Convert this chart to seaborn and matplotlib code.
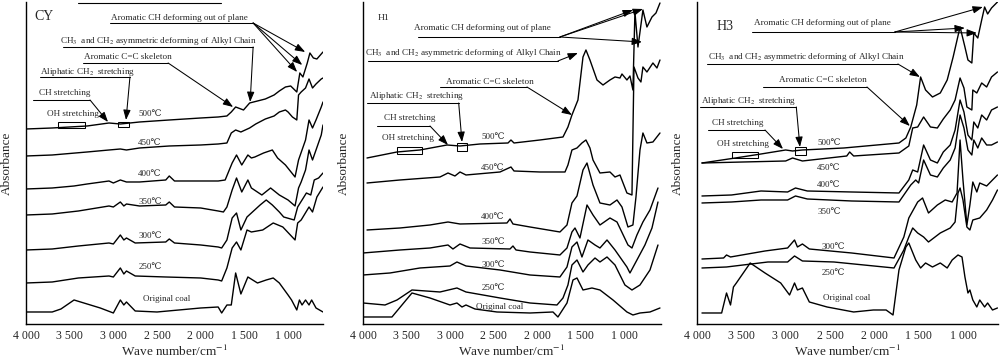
import matplotlib
matplotlib.use('Agg')
import pandas as pd
import seaborn as sns
import matplotlib.pyplot as plt
from matplotlib.patches import Rectangle

# FTIR spectra, (wavenumber cm-1, absorbance a.u.), curves stacked with offsets as published
cy_500 = [(4000, 1.95), (3700, 1.96), (3300, 1.98), (3050, 2.01), (2920, 2.00), (2700, 2.02), (2360, 2.04),
          (2000, 2.06), (1800, 2.07), (1700, 2.08), (1650, 2.12), (1600, 2.17), (1510, 2.14), (1440, 2.21),
          (1260, 2.25), (1160, 2.29), (1100, 2.33), (1030, 2.37), (970, 2.38), (900, 2.32), (865, 2.51),
          (830, 2.47), (780, 2.61), (750, 2.71), (710, 2.66), (670, 2.65), (610, 2.71), (600, 2.72)]
cy_450 = [(4000, 1.68), (3700, 1.69), (3300, 1.72), (3050, 1.74), (2920, 1.75), (2850, 1.74), (2700, 1.76),
          (2360, 1.78), (2000, 1.79), (1800, 1.80), (1700, 1.81), (1650, 1.91), (1600, 1.94), (1540, 1.92),
          (1440, 1.96), (1370, 2.00), (1260, 2.05), (1160, 2.08), (1100, 2.12), (1030, 2.14), (1000, 2.12),
          (950, 2.07), (900, 2.04), (880, 2.29), (850, 2.32), (800, 2.36), (760, 2.45), (720, 2.36),
          (680, 2.40), (620, 2.45), (600, 2.46)]
cy_400 = [(4000, 1.35), (3700, 1.36), (3450, 1.38), (3300, 1.40), (3050, 1.43), (3000, 1.41), (2920, 1.44),
          (2850, 1.42), (2700, 1.42), (2400, 1.44), (2360, 1.48), (2300, 1.43), (2000, 1.43), (1800, 1.43),
          (1720, 1.44), (1640, 1.61), (1590, 1.69), (1530, 1.59), (1460, 1.69), (1420, 1.66), (1380, 1.67),
          (1280, 1.71), (1180, 1.74), (1120, 1.66), (1030, 1.59), (920, 1.47), (880, 1.64), (840, 1.74),
          (800, 1.84), (760, 2.04), (720, 1.96), (680, 2.04), (620, 2.17), (600, 2.22)]
cy_350 = [(4000, 1.09), (3700, 1.10), (3400, 1.13), (3050, 1.18), (3000, 1.17), (2920, 1.22), (2880, 1.18),
          (2850, 1.20), (2700, 1.18), (2400, 1.19), (2360, 1.22), (2300, 1.17), (2000, 1.16), (1800, 1.13),
          (1740, 1.12), (1700, 1.17), (1640, 1.34), (1590, 1.46), (1530, 1.32), (1460, 1.44), (1420, 1.36),
          (1300, 1.29), (1200, 1.36), (1100, 1.29), (1000, 1.24), (920, 1.18), (880, 1.36), (850, 1.42),
          (800, 1.54), (760, 1.74), (720, 1.64), (680, 1.74), (620, 1.89), (600, 1.99)]
cy_300 = [(4000, 0.74), (3700, 0.75), (3400, 0.78), (3050, 0.81), (3000, 0.80), (2920, 0.89), (2880, 0.84),
          (2850, 0.86), (2750, 0.81), (2400, 0.82), (2360, 0.85), (2300, 0.81), (2000, 0.79), (1800, 0.77),
          (1760, 0.76), (1700, 0.84), (1640, 1.06), (1590, 1.11), (1540, 0.94), (1470, 1.07), (1420, 1.11),
          (1320, 1.19), (1250, 1.24), (1180, 1.19), (1100, 1.12), (1050, 1.07), (930, 1.04), (890, 1.17),
          (840, 1.24), (790, 1.31), (740, 1.29), (700, 1.44), (650, 1.46), (600, 1.51)]
cy_250 = [(4000, 0.41), (3700, 0.42), (3400, 0.46), (3050, 0.48), (3000, 0.47), (2920, 0.56), (2880, 0.50),
          (2850, 0.53), (2750, 0.48), (2400, 0.47), (2000, 0.46), (1800, 0.44), (1760, 0.43), (1700, 0.56),
          (1640, 0.76), (1590, 0.82), (1540, 0.74), (1470, 0.94), (1420, 0.92), (1290, 0.94), (1170, 1.01),
          (1060, 0.97), (920, 0.84), (890, 1.01), (850, 1.04), (760, 1.17), (720, 1.12), (670, 1.27), (600, 1.37)]
cy_raw = [(4000, 0.12), (3700, 0.12), (3600, 0.15), (3450, 0.24), (3300, 0.20), (3150, 0.16), (3000, 0.11),
          (2920, 0.24), (2880, 0.19), (2850, 0.22), (2750, 0.13), (2500, 0.12), (2000, 0.16), (1800, 0.17),
          (1760, 0.11), (1700, 0.19), (1650, 0.19), (1600, 0.51), (1540, 0.30), (1460, 0.47), (1350, 0.41),
          (1250, 0.44), (1170, 0.46), (1100, 0.41), (1000, 0.29), (960, 0.24), (900, 0.14), (870, 0.24),
          (840, 0.19), (800, 0.24), (760, 0.19), (730, 0.24), (680, 0.16), (600, 0.12)]

h1_500 = [(3954, 1.66), (3609, 1.72), (3345, 1.74), (3034, 1.79), (2885, 1.78), (2655, 1.80), (2333, 1.81),
          (2299, 1.84), (2264, 1.81), (1966, 1.84), (1701, 1.87), (1644, 1.97), (1598, 2.09), (1529, 2.24),
          (1471, 2.67), (1437, 2.74), (1391, 2.64), (1310, 2.44), (1241, 2.39), (1161, 2.44), (1103, 2.47),
          (1046, 2.46), (1023, 2.50), (966, 2.44), (931, 2.48), (897, 2.34), (874, 3.12), (839, 2.77),
          (782, 3.14), (736, 2.97), (678, 3.07), (632, 3.11), (586, 3.21)]
h1_450 = [(3954, 1.41), (3575, 1.44), (3115, 1.47), (3023, 1.51), (2943, 1.48), (2885, 1.52), (2816, 1.49),
          (2425, 1.52), (2299, 1.57), (2264, 1.53), (1966, 1.52), (1678, 1.52), (1644, 1.59), (1598, 1.74),
          (1540, 1.76), (1483, 1.81), (1437, 1.84), (1391, 1.76), (1356, 1.64), (1276, 1.51), (1161, 1.52),
          (1103, 1.47), (1046, 1.49), (966, 1.31), (908, 1.29), (885, 2.57), (839, 2.46), (805, 2.42),
          (782, 2.57), (736, 2.52), (667, 2.61), (621, 2.56), (586, 2.64)]
h1_400 = [(3954, 0.94), (3575, 0.96), (3230, 0.99), (3023, 1.02), (2885, 1.00), (2345, 1.01), (2310, 1.05),
          (2276, 1.00), (2080, 0.97), (1736, 0.92), (1655, 0.99), (1598, 1.21), (1540, 1.28), (1471, 1.54),
          (1425, 1.61), (1356, 1.39), (1276, 1.21), (1161, 1.19), (1080, 1.24), (1023, 1.17), (954, 0.97),
          (897, 0.99), (862, 1.27), (816, 1.74), (782, 1.91), (736, 1.81), (667, 1.82), (586, 1.91)]
h1_350 = [(4000, 0.71), (3575, 0.74), (3230, 0.76), (3023, 0.79), (2966, 0.75), (2885, 0.80), (2770, 0.76),
          (2310, 0.75), (2276, 0.78), (2241, 0.74), (2080, 0.72), (1736, 0.69), (1655, 0.76), (1598, 0.92),
          (1563, 0.96), (1506, 0.86), (1425, 1.19), (1356, 1.09), (1276, 0.99), (1161, 1.06), (1080, 1.02),
          (954, 0.79), (908, 0.76), (851, 0.89), (782, 1.02), (701, 1.14), (609, 1.36)]
h1_300 = [(4000, 0.49), (3690, 0.51), (3345, 0.56), (3000, 0.58), (2920, 0.62), (2816, 0.58), (2425, 0.54),
          (2080, 0.49), (1736, 0.47), (1655, 0.57), (1598, 0.77), (1540, 0.82), (1483, 0.67), (1414, 0.84),
          (1333, 0.79), (1276, 0.76), (1195, 0.84), (1103, 0.74), (966, 0.57), (931, 0.51), (851, 0.64),
          (759, 0.79), (678, 0.96), (609, 1.22)]
h1_250 = [(4000, 0.21), (3747, 0.19), (3609, 0.24), (3437, 0.34), (3115, 0.32), (2920, 0.36), (2816, 0.32),
          (2425, 0.26), (2080, 0.21), (1770, 0.19), (1701, 0.26), (1644, 0.39), (1598, 0.59), (1540, 0.64),
          (1471, 0.52), (1414, 0.59), (1333, 0.66), (1276, 0.62), (1195, 0.67), (1103, 0.59), (989, 0.39),
          (908, 0.34), (816, 0.39), (701, 0.54), (609, 0.79)]
h1_raw = [(4000, 0.07), (3667, 0.07), (3437, 0.31), (3230, 0.26), (3000, 0.19), (2920, 0.21), (2862, 0.17),
          (2816, 0.19), (2713, 0.15), (2460, 0.12), (2080, 0.11), (1816, 0.12), (1759, 0.07), (1655, 0.21),
          (1586, 0.44), (1540, 0.46), (1471, 0.34), (1368, 0.36), (1276, 0.34), (1126, 0.24), (966, 0.12),
          (897, 0.09), (816, 0.11), (701, 0.12), (586, 0.16)]

h3_500 = [(3944, 1.61), (3567, 1.66), (3278, 1.70), (3000, 1.74), (2922, 1.73), (2811, 1.74), (2344, 1.76),
          (1722, 1.81), (1644, 1.86), (1589, 1.97), (1522, 2.19), (1478, 2.47), (1422, 2.34), (1344, 2.27),
          (1256, 2.31), (1178, 2.44), (1111, 2.67), (1033, 2.97), (978, 2.77), (944, 2.64), (900, 2.61),
          (878, 2.91), (833, 2.86), (789, 3.04), (756, 3.17), (722, 3.10), (678, 3.16), (611, 3.22)]
h3_450 = [(3944, 1.61), (3478, 1.62), (3000, 1.63), (2922, 1.66), (2811, 1.63), (2311, 1.68), (2278, 1.72),
          (2233, 1.68), (1722, 1.71), (1611, 1.78), (1567, 1.96), (1511, 1.97), (1444, 2.07), (1367, 1.97),
          (1289, 1.96), (1222, 2.05), (1144, 2.14), (1089, 2.24), (1033, 2.46), (989, 2.36), (956, 2.17),
          (900, 2.14), (889, 2.34), (844, 2.31), (789, 2.41), (733, 2.37), (678, 2.47), (611, 2.52)]
h3_400 = [(3944, 1.28), (3611, 1.29), (3278, 1.33), (2978, 1.32), (2889, 1.36), (2756, 1.33), (2256, 1.32),
          (1722, 1.31), (1611, 1.44), (1567, 1.54), (1511, 1.52), (1444, 1.79), (1367, 1.64), (1289, 1.61),
          (1222, 1.72), (1144, 1.79), (1089, 1.94), (1033, 2.24), (989, 2.12), (944, 1.89), (900, 1.84),
          (878, 2.02), (833, 1.96), (789, 2.09), (733, 2.04), (678, 2.14), (611, 2.17)]
h3_350 = [(3944, 1.21), (3611, 1.22), (3278, 1.24), (2978, 1.24), (2889, 1.28), (2756, 1.25), (2256, 1.23),
          (1722, 1.22), (1589, 1.39), (1533, 1.44), (1500, 1.41), (1444, 1.64), (1367, 1.49), (1289, 1.47),
          (1222, 1.56), (1144, 1.64), (1089, 1.76), (1033, 2.09), (989, 1.96), (944, 1.74), (900, 1.69),
          (878, 1.84), (833, 1.76), (789, 1.86), (733, 1.79), (678, 1.79), (611, 1.82)]
h3_300 = [(3944, 0.65), (3700, 0.66), (3667, 0.69), (3622, 0.67), (3233, 0.73), (2978, 0.76), (2900, 0.84),
          (2867, 0.77), (2811, 0.80), (2733, 0.75), (2256, 0.71), (1778, 0.66), (1667, 0.87), (1611, 1.06),
          (1511, 1.22), (1456, 1.26), (1389, 1.11), (1289, 1.19), (1200, 1.24), (1122, 1.22), (1067, 1.31),
          (1033, 1.84), (1000, 1.44), (956, 0.99), (922, 1.19), (889, 1.42), (844, 1.32), (811, 1.41),
          (733, 1.38), (667, 1.44), (611, 1.49)]
h3_250 = [(3944, 0.56), (3667, 0.57), (3200, 0.62), (2978, 0.62), (2900, 0.68), (2811, 0.63), (2456, 0.62),
          (1778, 0.56), (1667, 0.74), (1611, 0.87), (1567, 0.96), (1511, 0.91), (1444, 0.87), (1389, 0.82),
          (1256, 0.91), (1144, 0.96), (1089, 1.02), (1056, 1.31), (1033, 1.36), (1000, 1.24), (956, 0.97),
          (922, 0.94), (889, 1.04), (811, 1.06), (733, 1.14), (667, 1.24), (611, 1.34)]
h3_raw = [(3944, 0.11), (3722, 0.11), (3678, 0.27), (3667, 0.31), (3622, 0.19), (3589, 0.37), (3556, 0.41),
          (3400, 0.61), (3233, 0.51), (3056, 0.41), (2956, 0.29), (2900, 0.41), (2867, 0.34), (2811, 0.36),
          (2733, 0.22), (2533, 0.17), (2233, 0.12), (2011, 0.14), (1867, 0.14), (1789, 0.09), (1722, 0.54),
          (1644, 0.77), (1611, 0.81), (1533, 0.64), (1478, 0.56), (1422, 0.61), (1344, 0.57), (1256, 0.61),
          (1178, 0.56), (1122, 0.64), (1056, 0.69), (1011, 0.67), (978, 0.47), (944, 0.31), (922, 0.34),
          (889, 0.24), (844, 0.17), (811, 0.24), (756, 0.17), (722, 0.21), (667, 0.14), (611, 0.16)]

curve_labels = ['500℃', '450℃', '400℃', '350℃', '300℃', '250℃', 'Original coal']
x_ticks = [4000, 3500, 3000, 2500, 2000, 1500, 1000]
tick_labels = ['4 000', '3 500', '3 000', '2 500', '2 000', '1 500', '1 000']

NOTE_OH = 'OH stretching'
NOTE_CH = 'CH stretching'
NOTE_CH2 = 'Aliphatic CH$_2$  stretching'
NOTE_CC = 'Aromatic C=C skeleton'
NOTE_ALK = 'CH$_3$  and CH$_2$ asymmetric deforming of Alkyl Chain'
NOTE_OOP = 'Aromatic CH deforming out of plane'


def draw_panel(ax, spectra, label_pos, notes, boxes, xlim):
    """Draws the stacked spectra, their temperature labels and the band annotations"""
    for name, pts in zip(curve_labels, spectra):
        df = pd.DataFrame(pts, columns=['Wave number', 'Absorbance'])
        sns.lineplot(data=df, x='Wave number', y='Absorbance', ax=ax, color='black',
                     lw=1.0, sort=False, estimator=None)

    for name, (lx, ly) in zip(curve_labels, label_pos):
        ax.text(lx, ly, name, ha='center', va='center', fontsize=6.5)

    for text, (tx, ty), line, tips in notes:
        ax.text(tx, ty, text, ha='center', va='center', fontsize=6.6)
        if line is None:
            continue
        w1, w2, a = line
        ax.plot([w1, w2], [a, a], color='black', lw=0.75, clip_on=False)
        for tip in tips:
            ax.annotate('', xy=tip, xytext=(w2, a),
                        arrowprops=dict(arrowstyle='-|>,head_length=0.6,head_width=0.22',
                                        color='black', lw=0.75, shrinkA=0, shrinkB=0))

    for (w_left, w_right, a_low, a_high) in boxes:
        ax.add_patch(Rectangle((w_right, a_low), w_left - w_right, a_high - a_low,
                               fill=False, ec='black', lw=0.75))

    ax.set_xlim(*xlim)
    ax.set_ylim(0, 3.22)
    ax.set_xticks(x_ticks)
    ax.set_xticklabels(tick_labels)
    ax.set_yticks([])
    ax.tick_params(axis='x', direction='out', length=3, width=0.8, pad=1.5, labelsize=8.5)
    ax.set_xlabel('Wave number/cm$^{-1}$', fontsize=9.5)
    ax.set_ylabel('Absorbance', fontsize=9.5)
    ax.xaxis.set_label_coords(0.5, -0.062)
    ax.yaxis.set_label_coords(-0.045, 0.5)
    sns.despine(ax=ax)
    for side in ['left', 'bottom']:
        ax.spines[side].set_linewidth(1.0)
        ax.spines[side].set_color('black')


if __name__ == '__main__':
    sns.set_style('white')
    plt.rcParams['font.family'] = ['Liberation Serif', 'DejaVu Serif']
    plt.rcParams['mathtext.fontset'] = 'stix'

    fig = plt.figure(figsize=(10, 3.62), dpi=100)
    ax_cy = fig.add_axes([0.026, 0.105, 0.297, 0.8895])
    ax_h1 = fig.add_axes([0.363, 0.105, 0.2975, 0.8895])
    ax_h3 = fig.add_axes([0.697, 0.105, 0.301, 0.8895])

    # CY
    draw_panel(ax_cy, [cy_500, cy_450, cy_400, cy_350, cy_300, cy_250, cy_raw],
               [(2580, 2.10), (2580, 1.81), (2580, 1.50), (2580, 1.22), (2580, 0.88), (2580, 0.57), (2385, 0.25)],
               [(NOTE_OOP, (2242, 3.06), (3038, 1400, 3.01), [(804, 2.72), (838, 2.59), (896, 2.52)]),
                (NOTE_ALK, (2482, 2.83), (3576, 1400, 2.77), [(1434, 2.22)]),
                (NOTE_CC, (2837, 2.67), (3347, 2373, 2.61), [(1629, 2.17)]),
                (NOTE_CH2, (3296, 2.52), (3840, 2810, 2.47), [(2855, 2.04)]),
                (NOTE_CH, (3553, 2.31), (3920, 3267, 2.24), [(3061, 2.02)]),
                (NOTE_OH, (3467, 2.10), None, [])],
               [(3633, 3324, 1.96, 2.02), (2946, 2820, 1.97, 2.02)],
               (4000, 600))
    ax_cy.text(3794, 3.07, 'CY', ha='center', va='center', fontsize=10)
    ax_cy.plot([0.175, 0.655], [0.997, 0.997], color='black', lw=0.8,
               transform=ax_cy.transAxes, clip_on=False)

    # H1
    draw_panel(ax_h1, [h1_500, h1_450, h1_400, h1_350, h1_300, h1_250, h1_raw],
               [(2506, 1.87), (2506, 1.56), (2506, 1.07), (2506, 0.82), (2506, 0.59), (2506, 0.36), (2425, 0.17)],
               [(NOTE_OOP, (2626, 2.96), (3368, 1736, 2.87), [(897, 3.14), (782, 3.15), (793, 2.82)]),
                (NOTE_ALK, (2845, 2.71), (3943, 1759, 2.63), [(1529, 2.71)]),
                (NOTE_CC, (2546, 2.42), (3115, 2115, 2.37), [(1598, 2.09)]),
                (NOTE_CH2, (3385, 2.28), (3954, 2900, 2.21), [(2862, 1.82)]),
                (NOTE_CH, (3460, 2.06), (3839, 3230, 1.98), [(3023, 1.79)]),
                (NOTE_OH, (3483, 1.86), None, [])],
               [(3609, 3322, 1.70, 1.77), (2920, 2805, 1.73, 1.81)],
               (4000, 580))
    ax_h1.text(3770, 3.06, 'H1', ha='center', va='center', fontsize=6.8)

    # H3
    draw_panel(ax_h3, [h3_500, h3_450, h3_400, h3_350, h3_300, h3_250, h3_raw],
               [(2512, 1.81), (2512, 1.56), (2512, 1.39), (2512, 1.12), (2467, 0.77), (2467, 0.51), (2309, 0.26)],
               [(NOTE_OOP, (2585, 3.01), (3380, 1768, 2.92), [(776, 3.17), (979, 2.96), (843, 2.91)]),
                (NOTE_ALK, (2765, 2.67), (3887, 1734, 2.60), [(1486, 2.47)]),
                (NOTE_CC, (2585, 2.44), (3256, 2083, 2.37), [(1599, 1.98)]),
                (NOTE_CH2, (3419, 2.23), (3966, 2880, 2.17), [(2839, 1.77)]),
                (NOTE_CH, (3543, 2.01), (3876, 3233, 1.94), [(3030, 1.75)]),
                (NOTE_OH, (3487, 1.80), None, [])],
               [(3605, 3312, 1.66, 1.72), (2895, 2771, 1.69, 1.77)],
               (4000, 605))
    ax_h3.text(3684, 2.97, 'H3', ha='center', va='center', fontsize=10)

    fig.savefig('out.png', dpi=100)
    plt.close(fig)
